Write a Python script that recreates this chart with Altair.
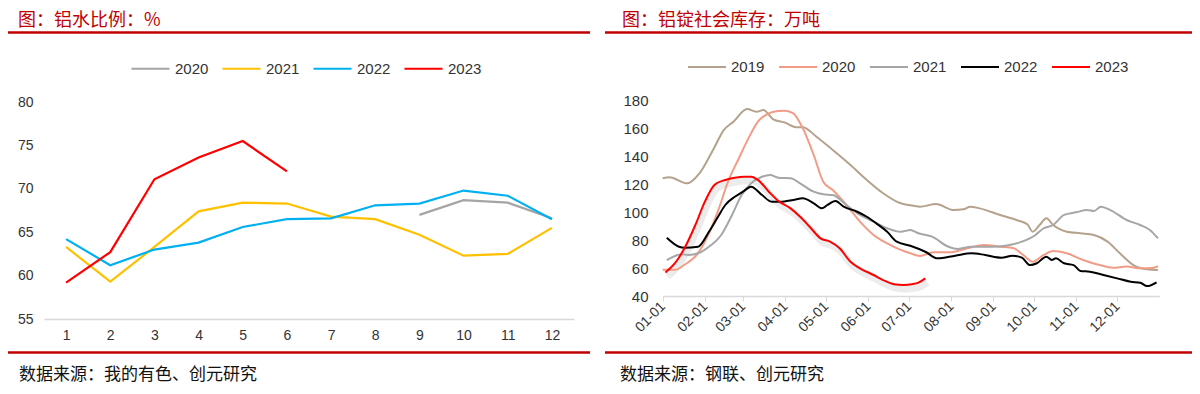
import altair as alt
import pandas as pd

# ---------------- left panel: 铝水比例 (%) ----------------
L_YEARS = ["2020", "2021", "2022", "2023"]
L_COLORS = ["#A5A5A5", "#FFC000", "#00B0F0", "#FF0000"]
L_WIDTHS = [2.2, 2.2, 2.2, 3.0]
MONTHS = [1, 2, 3, 4, 5, 6, 7, 8, 9, 10, 11, 12]

months_2020 = [9, 10, 11, 12]
ratio_2020 = [67.0, 68.7, 68.4, 66.6]
months_2021 = [1, 2, 3, 4, 5, 6, 7, 8, 9, 10, 11, 12]
ratio_2021 = [63.3, 59.3, 63.3, 67.4, 68.4, 68.3, 66.8, 66.5, 64.7, 62.3, 62.5, 65.5]
months_2022 = [1, 2, 3, 4, 5, 6, 7, 8, 9, 10, 11, 12]
ratio_2022 = [64.2, 61.2, 63.0, 63.8, 65.6, 66.5, 66.6, 68.1, 68.3, 69.8, 69.2, 66.5]
months_2023 = [1, 2, 3, 4, 5, 6]
ratio_2023 = [59.2, 62.7, 71.1, 73.6, 75.5, 72.0]
L_TICKS = [55, 60, 65, 70, 75, 80]

# ---------------- right panel: 铝锭社会库存 (万吨) ----------------
R_YEARS = ["2019", "2020", "2021", "2022", "2023"]
R_COLORS = ["#B4A28C", "#F29C88", "#A6A6A6", "#000000", "#FF0000"]
R_WIDTHS = [2.0, 2.0, 2.0, 2.2, 3.2]

days_2019 = [0, 5, 18, 27, 37, 45, 52, 62, 69, 74, 81, 90, 98, 103, 113, 125, 138, 150, 162, 175,
             181, 189, 201, 214, 221, 226, 233, 248, 260, 268, 272, 277, 282, 287, 297, 307, 317, 327,
             336, 346, 356, 364]
stock_2019 = [124.1, 124.8, 120.5, 127.6, 144.3, 158.6, 164.5, 173.6, 171.6, 172.9, 166.4, 163.8,
              160.5, 160.5, 153.8, 144.3, 133.6, 122.9, 113.4, 106.2, 105.0, 103.8, 105.7, 101.4,
              101.9, 103.8, 102.6, 97.9, 94.3, 91.2, 85.9, 90.7, 95.5, 90.7, 85.9, 84.8, 83.6, 78.8,
              70.5, 62.1, 59.1, 58.6]
days_2020 = [0, 9, 16, 26, 33, 41, 48, 56, 63, 70, 78, 85, 90, 96, 103, 111, 118, 125, 135, 145,
             155, 165, 175, 182, 189, 199, 211, 224, 236, 248, 258, 265, 272, 280, 287, 297, 309,
             321, 331, 341, 351, 361, 364]
stock_2020 = [58.7, 58.7, 62.3, 70.6, 82.6, 101.7, 121.6, 138.4, 152.6, 164.5, 170.5, 172.1, 172.4,
              170.5, 159.8, 140.7, 121.6, 115.7, 105.0, 93.1, 83.6, 77.6, 72.9, 70.5, 68.6, 71.2,
              71.2, 74.1, 76.4, 75.2, 74.1, 69.3, 64.5, 69.3, 72.1, 70.5, 65.7, 62.1, 60.2, 61.0,
              59.8, 60.2, 61.4]
days_2021 = [3, 14, 19, 26, 34, 43, 51, 58, 65, 73, 79, 85, 94, 101, 111, 118, 125, 135, 145, 155,
             165, 175, 182, 188, 198, 210, 217, 227, 242, 252, 264, 274, 280, 287, 295, 304, 312,
             317, 322, 329, 341, 351, 358, 364]
stock_2021 = [65.7, 69.8, 69.3, 70.5, 75.2, 83.6, 97.9, 112.1, 120.5, 125.2, 126.4, 124.5, 124.1,
              120.5, 114.5, 112.6, 112.1, 105.0, 97.9, 93.1, 88.4, 85.9, 87.1, 84.8, 82.4, 75.2,
              73.6, 75.2, 75.2, 75.9, 78.8, 83.6, 88.4, 90.7, 97.9, 99.8, 101.4, 100.7, 103.8,
              101.4, 94.3, 90.7, 87.1, 81.2]
days_2022 = [3, 12, 16, 26, 34, 40, 46, 53, 59, 65, 73, 80, 88, 96, 103, 111, 117, 121, 127, 133,
             143, 150, 157, 165, 172, 182, 193, 202, 215, 227, 237, 249, 257, 264, 270, 275, 282,
             286, 289, 295, 302, 307, 314, 324, 334, 344, 351, 356, 363]
stock_2022 = [81.6, 75.2, 74.5, 75.2, 85.9, 95.5, 105.0, 110.9, 114.5, 118.1, 112.1, 107.4, 107.4,
              108.6, 109.8, 106.2, 102.6, 105.0, 107.9, 103.8, 100.2, 96.6, 91.9, 85.9, 78.8, 75.9,
              71.6, 66.9, 68.8, 70.5, 69.3, 67.4, 68.8, 67.4, 62.1, 63.4, 68.1, 65.7, 66.9, 63.4,
              62.1, 57.9, 57.4, 55.0, 52.6, 50.2, 49.5, 47.1, 49.8]
days_2023 = [2, 9, 16, 24, 31, 38, 46, 53, 60, 65, 70, 78, 85, 94, 101, 108, 116, 123, 130, 138,
             145, 155, 162, 170, 177, 183, 188, 193]
stock_2023 = [56.8, 63.4, 74.1, 90.7, 107.4, 119.3, 122.9, 124.5, 125.2, 125.2, 122.9, 114.5,
              107.9, 102.6, 96.6, 89.5, 81.2, 78.8, 74.1, 64.5, 59.8, 55.0, 51.4, 48.4, 47.9, 48.4,
              49.5, 52.6]
R_TICKS = [40, 60, 80, 100, 120, 140, 160, 180]

TITLE_L = "图：铝水比例：%"
TITLE_R = "图：铝锭社会库存：万吨"
SOURCE_L = "数据来源：我的有色、创元研究"
SOURCE_R = "数据来源：钢联、创元研究"

# ---------------- tables ----------------
left_rows = []
for yr, ms, vs in zip(L_YEARS, [months_2020, months_2021, months_2022, months_2023],
                      [ratio_2020, ratio_2021, ratio_2022, ratio_2023]):
    for m, v in zip(ms, vs):
        left_rows.append({"year": yr, "month": m, "value": v})
left_df = pd.DataFrame(left_rows)

base_day = pd.Timestamp("2021-01-01")
right_rows = []
for yr, ds, vs in zip(R_YEARS, [days_2019, days_2020, days_2021, days_2022, days_2023],
                      [stock_2019, stock_2020, stock_2021, stock_2022, stock_2023]):
    for d, v in zip(ds, vs):
        right_rows.append({"year": yr, "date": (base_day + pd.Timedelta(days=d)).strftime("%Y-%m-%dT00:00:00"), "value": v})
right_df = pd.DataFrame(right_rows)
shadow_df = right_df[right_df["year"] == "2023"]

W, H = 1184, 378
FONT_NUM = "Liberation Sans"
FONT_CJK = "Noto Sans CJK SC"
RED = "#C00000"

# ---------------- left lines ----------------
lx = alt.Scale(type="point", domain=MONTHS, range=[36, 566], padding=0.5)
ly = alt.Scale(domain=[55, 80], range=[311, 94], zero=False, nice=False)
left = alt.Chart(left_df).mark_line(strokeCap="butt").encode(
    x=alt.X("month:O", scale=lx, axis=alt.Axis(
        title=None, orient="bottom", offset=-67, ticks=False, domainColor="#D9D9D9", domainWidth=1.5,
        labelAngle=0, labelFont=FONT_NUM, labelFontSize=14, labelColor="#333333", labelPadding=9,
        grid=False)),
    y=alt.Y("value:Q", scale=ly, axis=alt.Axis(
        title=None, orient="left", offset=-32, values=L_TICKS, ticks=False, domain=False, grid=False,
        labelFont=FONT_NUM, labelFontSize=14, labelColor="#333333", labelPadding=7)),
    color=alt.Color("year:N", scale=alt.Scale(domain=L_YEARS, range=L_COLORS), legend=alt.Legend(
        title=None, orient="none", legendX=122, legendY=40, direction="horizontal", symbolType="stroke",
        symbolSize=1444, symbolStrokeWidth=2.5, labelFont=FONT_NUM, labelFontSize=15,
        labelColor="#333333", columnPadding=9, labelOffset=4, padding=0)),
    strokeWidth=alt.StrokeWidth("year:N", scale=alt.Scale(domain=L_YEARS, range=L_WIDTHS), legend=None),
)

# ---------------- right lines ----------------
rx = alt.Scale(type="time", domain=[alt.DateTime(year=2021, month=1, date=1), alt.DateTime(year=2022, month=1, date=1)],
               range=[654.7, 1151.3], nice=False)
ry = alt.Scale(domain=[40, 180], range=[288, 92], zero=False, nice=False)
x_right = alt.X("date:T", scale=rx, axis=alt.Axis(
    title=None, orient="bottom", offset=-90, values=[alt.DateTime(year=2021, month=m, date=1) for m in MONTHS],
    format="%m-%d", labelAngle=315, labelAlign="right", labelBaseline="middle", ticks=True, tickSize=5,
    tickColor="#D9D9D9", domainColor="#D9D9D9", domainWidth=1.5, labelFont=FONT_NUM, labelFontSize=14,
    labelColor="#333333", labelPadding=3, grid=False, labelOverlap=False))
y_right = alt.Y("value:Q", scale=ry, axis=alt.Axis(
    title=None, orient="left", offset=-647, values=R_TICKS, ticks=False, domain=False, grid=False,
    labelFont=FONT_NUM, labelFontSize=15, labelColor="#333333", labelPadding=7))

shadow = alt.Chart(shadow_df).mark_line(color="#8C8C8C", opacity=0.17, strokeWidth=7,
                                        interpolate="monotone", yOffset=4, xOffset=2).encode(
    x=x_right, y=y_right)
right_lines = alt.Chart(right_df).mark_line(interpolate="monotone", strokeCap="butt").encode(
    x=x_right, y=y_right,
    color=alt.Color("year:N", scale=alt.Scale(domain=R_YEARS, range=R_COLORS), legend=alt.Legend(
        title=None, orient="none", legendX=679, legendY=39, direction="horizontal", symbolType="stroke",
        symbolSize=1444, symbolStrokeWidth=2.5, labelFont=FONT_NUM, labelFontSize=15,
        labelColor="#333333", columnPadding=10, labelOffset=4, padding=0)),
    strokeWidth=alt.StrokeWidth("year:N", scale=alt.Scale(domain=R_YEARS, range=R_WIDTHS), legend=None),
)
right = alt.layer(shadow, right_lines)

# ---------------- decorations ----------------
one = pd.DataFrame({"k": [0]})


def rule(x1, x2, y):
    return alt.Chart(one).mark_rule(color=RED, strokeWidth=2.5).encode(
        x=alt.value(x1), x2=alt.value(x2), y=alt.value(y))


def label(txt, x, y, size, color):
    return alt.Chart(one).mark_text(align="left", baseline="middle", font=FONT_CJK, fontSize=size,
                                    color=color).encode(x=alt.value(x), y=alt.value(y), text=alt.value(txt))


decor = [
    rule(0, 582, 24.5), rule(597, 1184, 24.5),
    rule(0, 582, 344.5), rule(597, 1184, 344.5),
    label(TITLE_L, 10, 13, 18, RED), label(TITLE_R, 614, 13, 18, RED),
    label(SOURCE_L, 11, 367, 17, "#111111"), label(SOURCE_R, 612, 367, 17, "#111111"),
]

chart = alt.layer(left, right, *decor).resolve_scale(
    x="independent", y="independent", color="independent", strokeWidth="independent"
).properties(
    width=W, height=H, padding=0, autosize=alt.AutoSizeParams(type="none"), background="white"
).configure_view(stroke=None)

chart.save("out.html", embed_options={"renderer": "svg", "actions": False})
